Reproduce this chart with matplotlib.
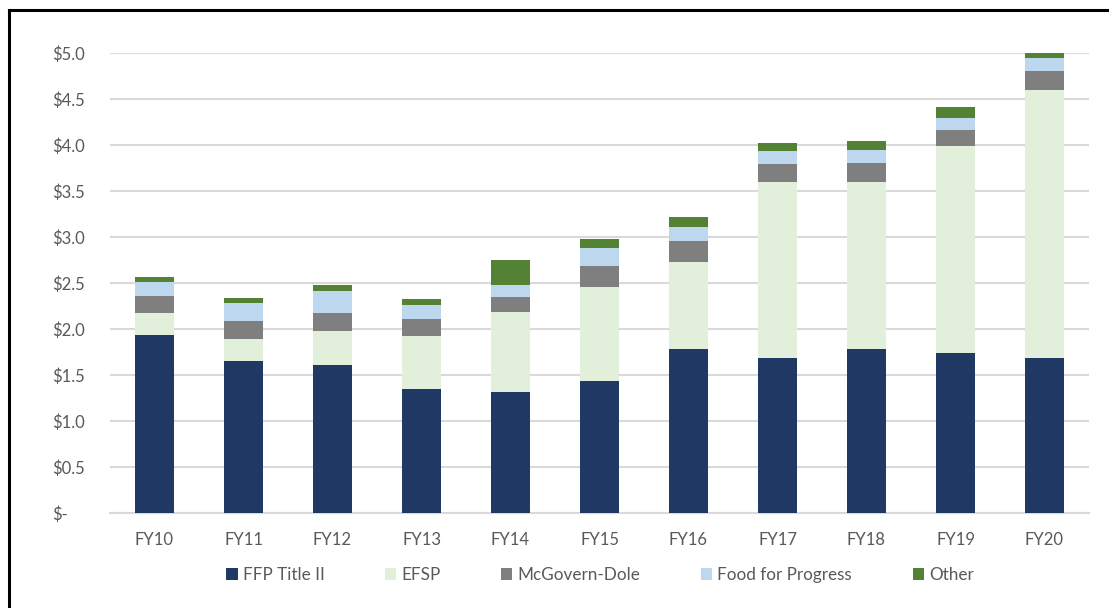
import numpy as np
import matplotlib
matplotlib.use("Agg")
import matplotlib.pyplot as plt
from matplotlib.lines import Line2D

plt.rcParams['font.family'] = ['Lato', 'DejaVu Sans']

years = ["FY10", "FY11", "FY12", "FY13", "FY14", "FY15", "FY16", "FY17", "FY18", "FY19", "FY20"]
ffp_title2 = [1.935, 1.655, 1.609, 1.348, 1.320, 1.438, 1.783, 1.688, 1.783, 1.736, 1.688]
efsp = [0.243, 0.233, 0.373, 0.576, 0.863, 1.015, 0.942, 1.910, 1.815, 2.253, 2.906]
mcgovern = [0.177, 0.202, 0.196, 0.185, 0.168, 0.232, 0.232, 0.195, 0.206, 0.170, 0.214]
food_prog = [0.152, 0.196, 0.239, 0.152, 0.129, 0.195, 0.155, 0.138, 0.138, 0.138, 0.138]
other = [0.058, 0.047, 0.058, 0.062, 0.270, 0.095, 0.105, 0.094, 0.101, 0.112, 0.057]

series = [("FFP Title II", ffp_title2, "#203864"),
          ("EFSP", efsp, "#E2EFDA"),
          ("McGovern-Dole", mcgovern, "#7F7F7F"),
          ("Food for Progress", food_prog, "#BDD7EE"),
          ("Other", other, "#548235")]

fig = plt.figure(figsize=(11.09, 6.08), dpi=100)
ax = fig.add_axes([110 / 1109, 95 / 608, 979 / 1109, 460 / 608])

x = np.arange(len(years))
bottom = np.zeros(len(years))
for name, vals, col in series:
    ax.bar(x, vals, 0.44, bottom=bottom, color=col, label=name, zorder=3, clip_on=False)
    bottom += np.array(vals)

ax.set_xlim(-0.5, len(years) - 0.5)
ax.set_ylim(0, 5)
yt = np.arange(0, 5.01, 0.5)
ax.set_yticks(yt)
ax.set_yticklabels(["$-"] + ["${:.1f}".format(v) for v in yt[1:]])
ax.set_xticks(x)
ax.set_xticklabels(years)
ax.tick_params(axis='y', length=0, pad=41.5, labelsize=12, labelcolor="#595959")
ax.tick_params(axis='x', length=0, pad=14, labelsize=12, labelcolor="#595959")
for lbl in ax.get_yticklabels():
    lbl.set_horizontalalignment('left')

ax.grid(axis='y', color="#D9D9D9", linewidth=1.5, zorder=0)
for s in ["top", "right", "left"]:
    ax.spines[s].set_visible(False)
ax.spines["bottom"].set_color("#D9D9D9")
ax.spines["bottom"].set_linewidth(1.5)

fig.legend(loc="center", bbox_to_anchor=(600 / 1109, 1 - 575 / 608), ncol=5, frameon=False,
           fontsize=12.3, handlelength=0.65, handleheight=0.65, handletextpad=0.3,
           columnspacing=3.55, labelcolor="#595959")

# black frame (top and left edges visible)
fig.add_artist(Line2D([9 / 1109, 9 / 1109], [0, 1 - 10 / 608], color="black", linewidth=2.2,
                      transform=fig.transFigure))
fig.add_artist(Line2D([9 / 1109, 1], [1 - 10 / 608, 1 - 10 / 608], color="black", linewidth=2.2,
                      transform=fig.transFigure))

fig.savefig("out.png", dpi=100)
